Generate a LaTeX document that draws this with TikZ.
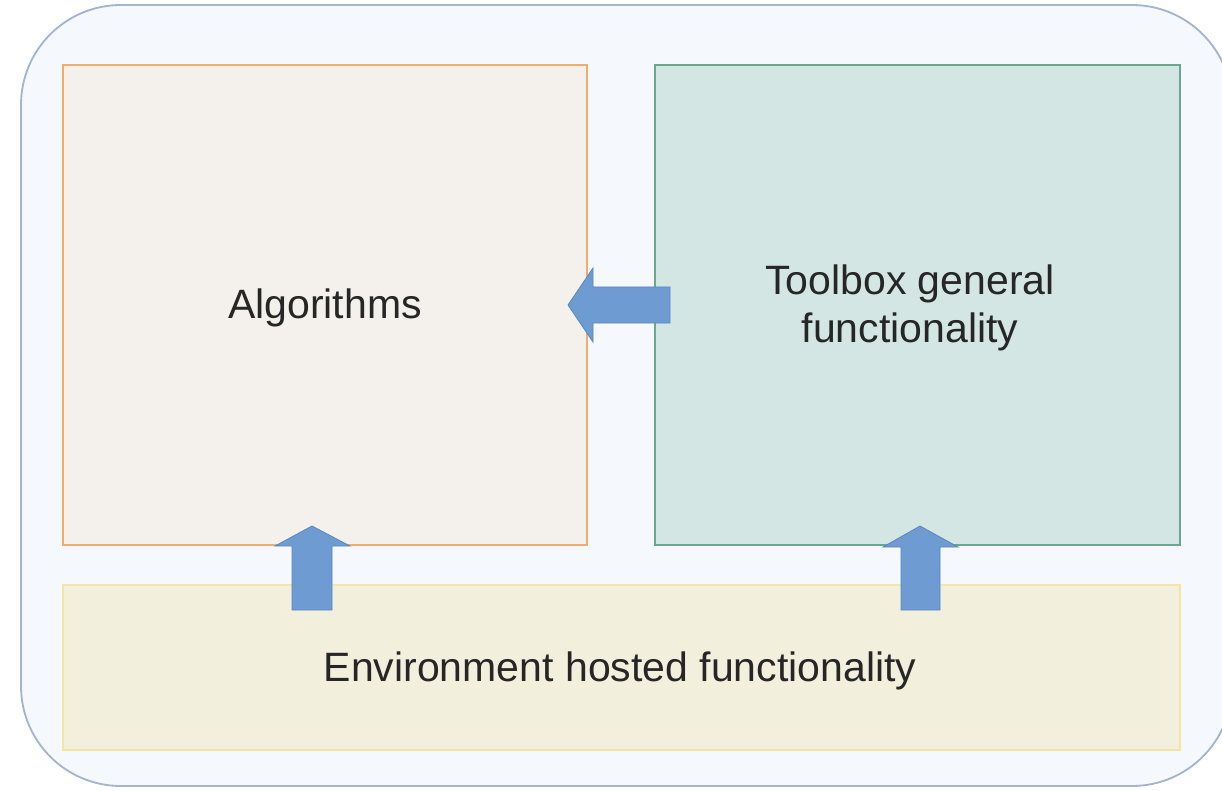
\documentclass[tikz,border=0pt]{standalone}
\usepackage{fontspec}
\setmainfont{Liberation Sans}
\definecolor{outerfill}{HTML}{F5F8FC}
\definecolor{outerdraw}{HTML}{A3B5CE}
\definecolor{algfill}{HTML}{F4F0EC}
\definecolor{algdraw}{HTML}{F0AE6E}
\definecolor{toolfill}{HTML}{D4E6E3}
\definecolor{tooldraw}{HTML}{6AA88E}
\definecolor{envfill}{HTML}{F2EFDC}
\definecolor{envdraw}{HTML}{F4E6A2}
\definecolor{arrowfill}{HTML}{6D9BD2}
\definecolor{arrowdraw}{HTML}{5A87BF}
\tikzset{
  panel/.style={draw, line width=1.2pt, inner sep=0pt, outer sep=0pt},
  label/.style={font=\fontsize{41}{48}\selectfont, text=black!85, align=center},
  blockarrow/.style={fill=arrowfill, draw=arrowdraw, line width=0.8pt, line join=miter}
}
\begin{document}
\begin{tikzpicture}[x=1pt,y=-1pt]
\useasboundingbox (0,0) rectangle (1222,791);
\clip (0,0) rectangle (1222,791);
\fill[white] (0,0) rectangle (1222,791);
\draw[fill=outerfill, draw=outerdraw, line width=1.8pt, rounded corners=100pt] (21,5) rectangle (1232,786);
\node[panel, fill=algfill, draw=algdraw, minimum width=524pt, minimum height=480pt, anchor=north west] (alg) at (63,65) {};
\node[panel, fill=toolfill, draw=tooldraw, minimum width=525pt, minimum height=480pt, anchor=north west] (tool) at (655,65) {};
\node[panel, fill=envfill, draw=envdraw, minimum width=1117pt, minimum height=165pt, anchor=north west] (env) at (63,585) {};
\node[label] (algt) at (325,308) {Algorithms};
\node[label] (toolt) at (910,308) {Toolbox general\\functionality};
\node[label] (envt) at (620,671) {Environment hosted functionality};
% left arrow
\draw[blockarrow] (670,287) -- (593,287) -- (593,268) -- (568,305) -- (593,342) -- (593,323) -- (670,323) -- cycle;
% up arrows
\draw[blockarrow] (292,610) -- (292,546) -- (275,546) -- (312,526) -- (350,546) -- (332,546) -- (332,610) -- cycle;
\draw[blockarrow] (901,610) -- (901,547) -- (883,547) -- (920,526) -- (958,547) -- (940,547) -- (940,610) -- cycle;
\end{tikzpicture}
\end{document}
